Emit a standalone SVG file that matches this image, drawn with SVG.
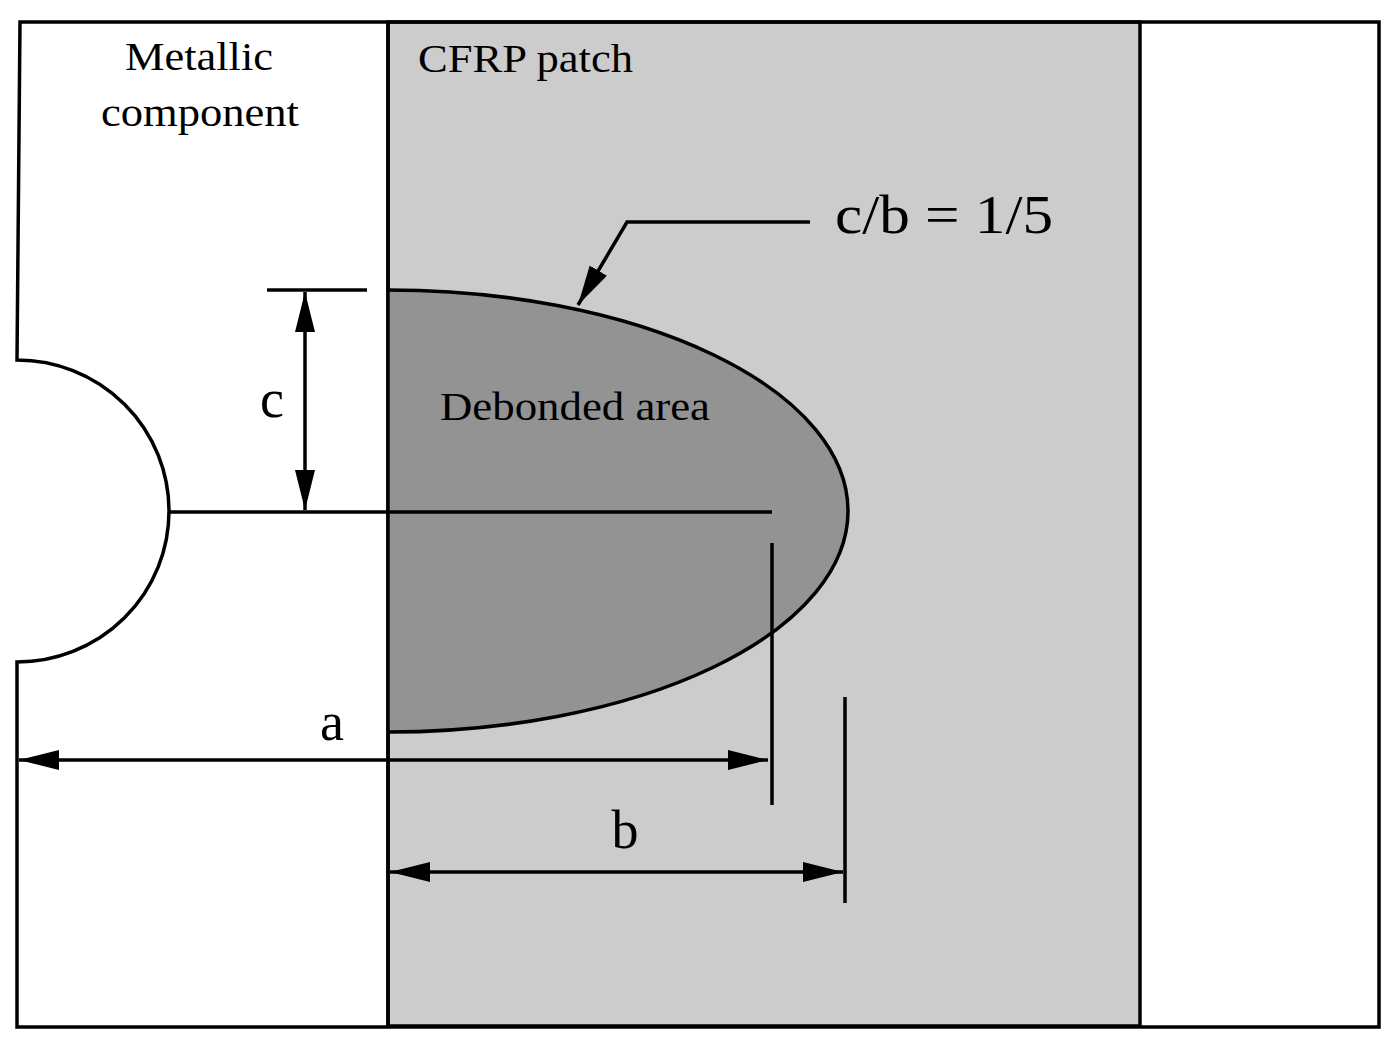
<svg xmlns="http://www.w3.org/2000/svg" width="1397" height="1048" viewBox="0 0 1397 1048">
<style>
.l{stroke:#000;stroke-width:3.5;fill:none}
.t{font-family:"Liberation Serif",serif;fill:#000}
</style>
<defs>
<marker id="ah2" viewBox="0 0 40 20" refX="40" refY="10" markerWidth="40" markerHeight="20" markerUnits="userSpaceOnUse" orient="auto-start-reverse"><path d="M0,0 L40,10 L0,20 z"/></marker>
</defs>
<rect width="1397" height="1048" fill="#fff"/>
<g id="patch"><rect x="388" y="22" width="752" height="1004" class="l" style="fill:#cccccc"/></g>
<g id="outline"><path class="l" d="M20,22 L1379,22 L1379,1027 L17,1027 L17,662 A152,151 0 0 0 17,360 L20,22 Z"/></g>
<g id="debond"><path class="l" style="fill:#939393" d="M388,290 A460,221 0 0 1 388,732"/><path class="l" d="M388,22 V1026"/></g>
<g id="connectors">
<path class="l" d="M170,512 H772"/>
<path class="l" d="M267,290 H367"/>
<path class="l" d="M305,292 V510" marker-start="url(#ah2)" marker-end="url(#ah2)"/>
<path class="l" d="M19,760 H768" marker-start="url(#ah2)" marker-end="url(#ah2)"/>
<path class="l" d="M772,543 V805"/>
<path class="l" d="M390,872 H843" marker-start="url(#ah2)" marker-end="url(#ah2)"/>
<path class="l" d="M845,697 V903"/>
<path class="l" d="M810,222 H627 L578,305" marker-end="url(#ah2)"/>
</g>
<g id="labels">
<text class="t" x="125" y="70" font-size="40" textLength="148" lengthAdjust="spacingAndGlyphs">Metallic</text>
<text class="t" x="101" y="126" font-size="40" textLength="198" lengthAdjust="spacingAndGlyphs">component</text>
<text class="t" x="418" y="72" font-size="40" textLength="215" lengthAdjust="spacingAndGlyphs">CFRP patch</text>
<text class="t" x="440" y="420" font-size="40" textLength="270" lengthAdjust="spacingAndGlyphs">Debonded area</text>
<text class="t" x="272" y="417" font-size="54" text-anchor="middle">c</text>
<text class="t" x="332" y="740" font-size="54" text-anchor="middle">a</text>
<text class="t" x="625" y="848" font-size="54" text-anchor="middle">b</text>
<text class="t" x="835" y="233" font-size="54" textLength="218" lengthAdjust="spacingAndGlyphs">c/b = 1/5</text>
</g>
</svg>
